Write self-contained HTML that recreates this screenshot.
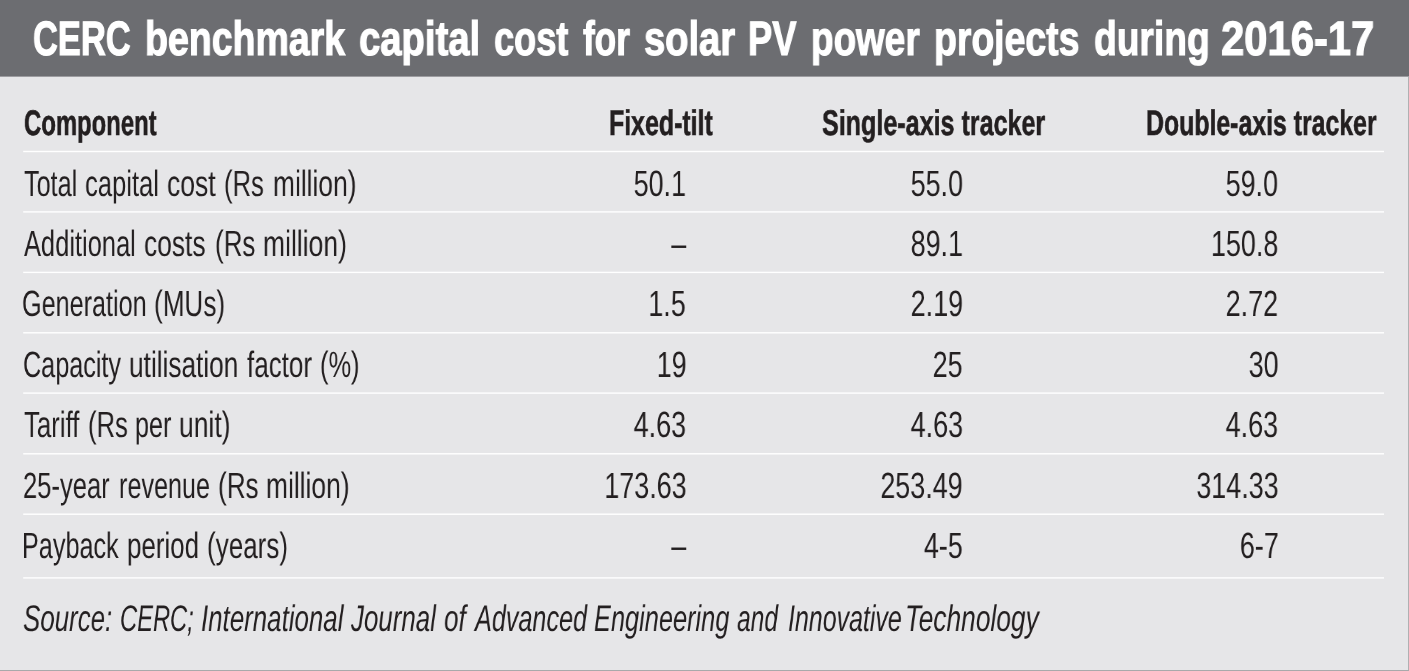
<!DOCTYPE html>
<html><head><meta charset="utf-8"><style>
html,body{margin:0;padding:0;}
body{width:1409px;height:671px;overflow:hidden;position:relative;background:#e6e6e8;}
svg{position:absolute;left:0;top:0;}
.t{position:absolute;white-space:nowrap;will-change:transform;transform-origin:0 0;}
.r{transform-origin:100% 0;}
</style></head><body>
<svg width="1409" height="671" viewBox="0 0 1409 671">
<rect x="0" y="0" width="1409" height="671" fill="#e6e6e8"/>
<rect x="0" y="0" width="1409" height="76.6" fill="#6c6d71"/>
<rect x="23.2" y="150.80" width="1360.8" height="1.4" fill="#fff"/><rect x="23.2" y="211.20" width="1360.8" height="1.4" fill="#fff"/><rect x="23.2" y="271.70" width="1360.8" height="1.4" fill="#fff"/><rect x="23.2" y="332.10" width="1360.8" height="1.4" fill="#fff"/><rect x="23.2" y="392.40" width="1360.8" height="1.4" fill="#fff"/><rect x="23.2" y="453.10" width="1360.8" height="1.4" fill="#fff"/><rect x="23.2" y="513.50" width="1360.8" height="1.4" fill="#fff"/><rect x="23.2" y="577.20" width="1360.8" height="1.4" fill="#fff"/>
<rect x="1408" y="76.6" width="1" height="594.4" fill="#b0b0b2"/>
<rect x="0" y="670" width="1409" height="1" fill="#a9a9ab"/>
</svg>
<div class="t" style="left:33.39px;top:15px;font:normal 700 48.2px/1 'Liberation Sans',sans-serif;text-rendering:geometricPrecision;-webkit-text-stroke:1.2px #fff;color:#fff;transform:scaleX(0.7152)">CERC</div>
<div class="t" style="left:144.77px;top:15px;font:normal 700 48.2px/1 'Liberation Sans',sans-serif;text-rendering:geometricPrecision;-webkit-text-stroke:1.2px #fff;color:#fff;transform:scaleX(0.7783)">benchmark</div>
<div class="t" style="left:359.49px;top:15px;font:normal 700 48.2px/1 'Liberation Sans',sans-serif;text-rendering:geometricPrecision;-webkit-text-stroke:1.2px #fff;color:#fff;transform:scaleX(0.7936)">capital</div>
<div class="t" style="left:494.14px;top:15px;font:normal 700 48.2px/1 'Liberation Sans',sans-serif;text-rendering:geometricPrecision;-webkit-text-stroke:1.2px #fff;color:#fff;transform:scaleX(0.7507)">cost</div>
<div class="t" style="left:582.65px;top:15px;font:normal 700 48.2px/1 'Liberation Sans',sans-serif;text-rendering:geometricPrecision;-webkit-text-stroke:1.2px #fff;color:#fff;transform:scaleX(0.7308)">for</div>
<div class="t" style="left:644.24px;top:15px;font:normal 700 48.2px/1 'Liberation Sans',sans-serif;text-rendering:geometricPrecision;-webkit-text-stroke:1.2px #fff;color:#fff;transform:scaleX(0.7911)">solar</div>
<div class="t" style="left:747.63px;top:15px;font:normal 700 48.2px/1 'Liberation Sans',sans-serif;text-rendering:geometricPrecision;-webkit-text-stroke:1.2px #fff;color:#fff;transform:scaleX(0.7538)">PV</div>
<div class="t" style="left:811.43px;top:15px;font:normal 700 48.2px/1 'Liberation Sans',sans-serif;text-rendering:geometricPrecision;-webkit-text-stroke:1.2px #fff;color:#fff;transform:scaleX(0.7659)">power</div>
<div class="t" style="left:934.10px;top:15px;font:normal 700 48.2px/1 'Liberation Sans',sans-serif;text-rendering:geometricPrecision;-webkit-text-stroke:1.2px #fff;color:#fff;transform:scaleX(0.7757)">projects</div>
<div class="t" style="left:1094.12px;top:15px;font:normal 700 48.2px/1 'Liberation Sans',sans-serif;text-rendering:geometricPrecision;-webkit-text-stroke:1.2px #fff;color:#fff;transform:scaleX(0.7724)">during</div>
<div class="t" style="left:1221.08px;top:15px;font:normal 700 48.2px/1 'Liberation Sans',sans-serif;text-rendering:geometricPrecision;-webkit-text-stroke:1.2px #fff;color:#fff;transform:scaleX(0.8667)">2016-17</div>
<div class="t" style="left:24.37px;top:106px;font:normal 700 35.6px/1 'Liberation Sans',sans-serif;text-rendering:geometricPrecision;-webkit-text-stroke:0.6px #231f20;color:#231f20;transform:scaleX(0.6713)">Component</div>
<div class="t" style="left:609.46px;top:106px;font:normal 700 35.6px/1 'Liberation Sans',sans-serif;text-rendering:geometricPrecision;-webkit-text-stroke:0.6px #231f20;color:#231f20;transform:scaleX(0.6999)">Fixed-tilt</div>
<div class="t" style="left:821.50px;top:106px;font:normal 700 35.6px/1 'Liberation Sans',sans-serif;text-rendering:geometricPrecision;-webkit-text-stroke:0.6px #231f20;color:#231f20;transform:scaleX(0.7054)">Single-axis tracker</div>
<div class="t" style="left:1145.57px;top:106px;font:normal 700 35.6px/1 'Liberation Sans',sans-serif;text-rendering:geometricPrecision;-webkit-text-stroke:0.6px #231f20;color:#231f20;transform:scaleX(0.6983)">Double-axis tracker</div>
<div class="t" style="left:23.75px;top:166px;font:normal 400 36.5px/1 'Liberation Sans',sans-serif;text-rendering:geometricPrecision;color:#231f20;transform:scaleX(0.6900)">Total</div>
<div class="t" style="left:84.68px;top:166px;font:normal 400 36.5px/1 'Liberation Sans',sans-serif;text-rendering:geometricPrecision;color:#231f20;transform:scaleX(0.7011)">capital</div>
<div class="t" style="left:166.64px;top:166px;font:normal 400 36.5px/1 'Liberation Sans',sans-serif;text-rendering:geometricPrecision;color:#231f20;transform:scaleX(0.7251)">cost</div>
<div class="t" style="left:224.47px;top:166px;font:normal 400 36.5px/1 'Liberation Sans',sans-serif;text-rendering:geometricPrecision;color:#231f20;transform:scaleX(0.7017)">(Rs</div>
<div class="t" style="left:272.80px;top:166px;font:normal 400 36.5px/1 'Liberation Sans',sans-serif;text-rendering:geometricPrecision;color:#231f20;transform:scaleX(0.7218)">million)</div>
<div class="t" style="left:23.92px;top:226px;font:normal 400 36.5px/1 'Liberation Sans',sans-serif;text-rendering:geometricPrecision;color:#231f20;transform:scaleX(0.6973)">Additional</div>
<div class="t" style="left:144.25px;top:226px;font:normal 400 36.5px/1 'Liberation Sans',sans-serif;text-rendering:geometricPrecision;color:#231f20;transform:scaleX(0.7222)">costs</div>
<div class="t" style="left:214.55px;top:226px;font:normal 400 36.5px/1 'Liberation Sans',sans-serif;text-rendering:geometricPrecision;color:#231f20;transform:scaleX(0.7111)">(Rs</div>
<div class="t" style="left:262.79px;top:226px;font:normal 400 36.5px/1 'Liberation Sans',sans-serif;text-rendering:geometricPrecision;color:#231f20;transform:scaleX(0.7254)">million)</div>
<div class="t" style="left:22.07px;top:286px;font:normal 400 36.5px/1 'Liberation Sans',sans-serif;text-rendering:geometricPrecision;color:#231f20;transform:scaleX(0.6900)">Generation</div>
<div class="t" style="left:154.44px;top:286px;font:normal 400 36.5px/1 'Liberation Sans',sans-serif;text-rendering:geometricPrecision;color:#231f20;transform:scaleX(0.7153)">(MUs)</div>
<div class="t" style="left:22.84px;top:347px;font:normal 400 36.5px/1 'Liberation Sans',sans-serif;text-rendering:geometricPrecision;color:#231f20;transform:scaleX(0.6900)">Capacity</div>
<div class="t" style="left:129.46px;top:347px;font:normal 400 36.5px/1 'Liberation Sans',sans-serif;text-rendering:geometricPrecision;color:#231f20;transform:scaleX(0.7187)">utilisation</div>
<div class="t" style="left:246.62px;top:347px;font:normal 400 36.5px/1 'Liberation Sans',sans-serif;text-rendering:geometricPrecision;color:#231f20;transform:scaleX(0.7113)">factor</div>
<div class="t" style="left:319.98px;top:347px;font:normal 400 36.5px/1 'Liberation Sans',sans-serif;text-rendering:geometricPrecision;color:#231f20;transform:scaleX(0.6961)">(%)</div>
<div class="t" style="left:23.66px;top:407px;font:normal 400 36.5px/1 'Liberation Sans',sans-serif;text-rendering:geometricPrecision;color:#231f20;transform:scaleX(0.7062)">Tariff</div>
<div class="t" style="left:87.87px;top:407px;font:normal 400 36.5px/1 'Liberation Sans',sans-serif;text-rendering:geometricPrecision;color:#231f20;transform:scaleX(0.7017)">(Rs</div>
<div class="t" style="left:135.25px;top:407px;font:normal 400 36.5px/1 'Liberation Sans',sans-serif;text-rendering:geometricPrecision;color:#231f20;transform:scaleX(0.6900)">per</div>
<div class="t" style="left:179.14px;top:407px;font:normal 400 36.5px/1 'Liberation Sans',sans-serif;text-rendering:geometricPrecision;color:#231f20;transform:scaleX(0.7272)">unit)</div>
<div class="t" style="left:23.04px;top:468px;font:normal 400 36.5px/1 'Liberation Sans',sans-serif;text-rendering:geometricPrecision;color:#231f20;transform:scaleX(0.7010)">25-year</div>
<div class="t" style="left:118.59px;top:468px;font:normal 400 36.5px/1 'Liberation Sans',sans-serif;text-rendering:geometricPrecision;color:#231f20;transform:scaleX(0.6900)">revenue</div>
<div class="t" style="left:217.54px;top:468px;font:normal 400 36.5px/1 'Liberation Sans',sans-serif;text-rendering:geometricPrecision;color:#231f20;transform:scaleX(0.7149)">(Rs</div>
<div class="t" style="left:266.09px;top:468px;font:normal 400 36.5px/1 'Liberation Sans',sans-serif;text-rendering:geometricPrecision;color:#231f20;transform:scaleX(0.7227)">million)</div>
<div class="t" style="left:22.18px;top:528px;font:normal 400 36.5px/1 'Liberation Sans',sans-serif;text-rendering:geometricPrecision;color:#231f20;transform:scaleX(0.6900)">Payback</div>
<div class="t" style="left:127.07px;top:528px;font:normal 400 36.5px/1 'Liberation Sans',sans-serif;text-rendering:geometricPrecision;color:#231f20;transform:scaleX(0.7103)">period</div>
<div class="t" style="left:206.54px;top:528px;font:normal 400 36.5px/1 'Liberation Sans',sans-serif;text-rendering:geometricPrecision;color:#231f20;transform:scaleX(0.7128)">(years)</div>
<div class="t r" style="right:722.79px;top:166px;font:normal 400 36.5px/1 'Liberation Sans',sans-serif;text-rendering:geometricPrecision;color:#231f20;transform:scaleX(0.7373)">50.1</div>
<div class="t r" style="right:446.15px;top:166px;font:normal 400 36.5px/1 'Liberation Sans',sans-serif;text-rendering:geometricPrecision;color:#231f20;transform:scaleX(0.7373)">55.0</div>
<div class="t r" style="right:130.49px;top:166px;font:normal 400 36.5px/1 'Liberation Sans',sans-serif;text-rendering:geometricPrecision;color:#231f20;transform:scaleX(0.7373)">59.0</div>
<div class="t r" style="right:722.79px;top:226px;font:normal 400 36.5px/1 'Liberation Sans',sans-serif;text-rendering:geometricPrecision;color:#231f20;transform:scaleX(0.7373)">–</div>
<div class="t r" style="right:446.15px;top:226px;font:normal 400 36.5px/1 'Liberation Sans',sans-serif;text-rendering:geometricPrecision;color:#231f20;transform:scaleX(0.7373)">89.1</div>
<div class="t r" style="right:130.49px;top:226px;font:normal 400 36.5px/1 'Liberation Sans',sans-serif;text-rendering:geometricPrecision;color:#231f20;transform:scaleX(0.7373)">150.8</div>
<div class="t r" style="right:722.79px;top:286px;font:normal 400 36.5px/1 'Liberation Sans',sans-serif;text-rendering:geometricPrecision;color:#231f20;transform:scaleX(0.7373)">1.5</div>
<div class="t r" style="right:446.15px;top:286px;font:normal 400 36.5px/1 'Liberation Sans',sans-serif;text-rendering:geometricPrecision;color:#231f20;transform:scaleX(0.7373)">2.19</div>
<div class="t r" style="right:130.49px;top:286px;font:normal 400 36.5px/1 'Liberation Sans',sans-serif;text-rendering:geometricPrecision;color:#231f20;transform:scaleX(0.7373)">2.72</div>
<div class="t r" style="right:722.79px;top:347px;font:normal 400 36.5px/1 'Liberation Sans',sans-serif;text-rendering:geometricPrecision;color:#231f20;transform:scaleX(0.7373)">19</div>
<div class="t r" style="right:446.15px;top:347px;font:normal 400 36.5px/1 'Liberation Sans',sans-serif;text-rendering:geometricPrecision;color:#231f20;transform:scaleX(0.7373)">25</div>
<div class="t r" style="right:130.49px;top:347px;font:normal 400 36.5px/1 'Liberation Sans',sans-serif;text-rendering:geometricPrecision;color:#231f20;transform:scaleX(0.7373)">30</div>
<div class="t r" style="right:722.79px;top:407px;font:normal 400 36.5px/1 'Liberation Sans',sans-serif;text-rendering:geometricPrecision;color:#231f20;transform:scaleX(0.7373)">4.63</div>
<div class="t r" style="right:446.15px;top:407px;font:normal 400 36.5px/1 'Liberation Sans',sans-serif;text-rendering:geometricPrecision;color:#231f20;transform:scaleX(0.7373)">4.63</div>
<div class="t r" style="right:130.49px;top:407px;font:normal 400 36.5px/1 'Liberation Sans',sans-serif;text-rendering:geometricPrecision;color:#231f20;transform:scaleX(0.7373)">4.63</div>
<div class="t r" style="right:722.79px;top:468px;font:normal 400 36.5px/1 'Liberation Sans',sans-serif;text-rendering:geometricPrecision;color:#231f20;transform:scaleX(0.7373)">173.63</div>
<div class="t r" style="right:446.15px;top:468px;font:normal 400 36.5px/1 'Liberation Sans',sans-serif;text-rendering:geometricPrecision;color:#231f20;transform:scaleX(0.7373)">253.49</div>
<div class="t r" style="right:130.49px;top:468px;font:normal 400 36.5px/1 'Liberation Sans',sans-serif;text-rendering:geometricPrecision;color:#231f20;transform:scaleX(0.7373)">314.33</div>
<div class="t r" style="right:722.79px;top:528px;font:normal 400 36.5px/1 'Liberation Sans',sans-serif;text-rendering:geometricPrecision;color:#231f20;transform:scaleX(0.7373)">–</div>
<div class="t r" style="right:446.15px;top:528px;font:normal 400 36.5px/1 'Liberation Sans',sans-serif;text-rendering:geometricPrecision;color:#231f20;transform:scaleX(0.7373)">4-5</div>
<div class="t r" style="right:130.49px;top:528px;font:normal 400 36.5px/1 'Liberation Sans',sans-serif;text-rendering:geometricPrecision;color:#231f20;transform:scaleX(0.7373)">6-7</div>
<div class="t" style="left:23.04px;top:600px;font:italic 400 37px/1 'Liberation Sans',sans-serif;text-rendering:geometricPrecision;color:#231f20;transform:scaleX(0.6999)">Source:</div>
<div class="t" style="left:120.48px;top:600px;font:italic 400 37px/1 'Liberation Sans',sans-serif;text-rendering:geometricPrecision;color:#231f20;transform:scaleX(0.6408)">CERC;</div>
<div class="t" style="left:201.48px;top:600px;font:italic 400 37px/1 'Liberation Sans',sans-serif;text-rendering:geometricPrecision;color:#231f20;transform:scaleX(0.6992)">International</div>
<div class="t" style="left:351.06px;top:600px;font:italic 400 37px/1 'Liberation Sans',sans-serif;text-rendering:geometricPrecision;color:#231f20;transform:scaleX(0.6990)">Journal</div>
<div class="t" style="left:443.92px;top:600px;font:italic 400 37px/1 'Liberation Sans',sans-serif;text-rendering:geometricPrecision;color:#231f20;transform:scaleX(0.7067)">of</div>
<div class="t" style="left:474.52px;top:600px;font:italic 400 37px/1 'Liberation Sans',sans-serif;text-rendering:geometricPrecision;color:#231f20;transform:scaleX(0.6807)">Advanced</div>
<div class="t" style="left:593.84px;top:600px;font:italic 400 37px/1 'Liberation Sans',sans-serif;text-rendering:geometricPrecision;color:#231f20;transform:scaleX(0.6854)">Engineering</div>
<div class="t" style="left:737.15px;top:600px;font:italic 400 37px/1 'Liberation Sans',sans-serif;text-rendering:geometricPrecision;color:#231f20;transform:scaleX(0.6634)">and</div>
<div class="t" style="left:787.52px;top:600px;font:italic 400 37px/1 'Liberation Sans',sans-serif;text-rendering:geometricPrecision;color:#231f20;transform:scaleX(0.6747)">Innovative</div>
<div class="t" style="left:904.91px;top:600px;font:italic 400 37px/1 'Liberation Sans',sans-serif;text-rendering:geometricPrecision;color:#231f20;transform:scaleX(0.7117)">Technology</div>
</body></html>
